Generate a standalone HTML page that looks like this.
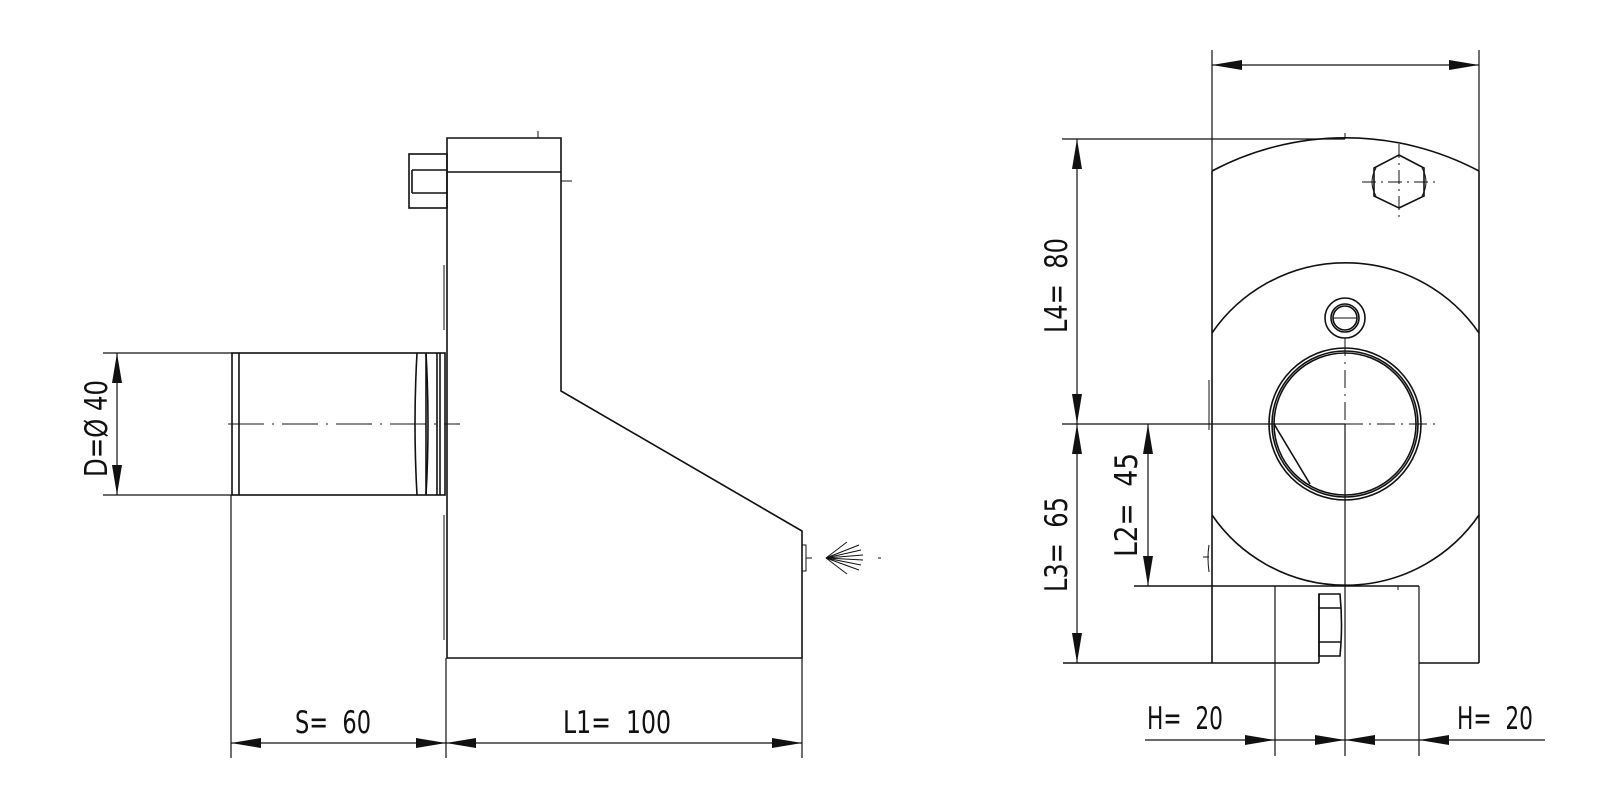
<!DOCTYPE html>
<html><head><meta charset="utf-8"><style>
html,body{margin:0;padding:0;background:#fff;}
svg{display:block;}
text{font-family:"DejaVu Sans Condensed","Liberation Sans",sans-serif;font-size:31px;fill:#111;white-space:pre;}
</style></head><body>
<svg width="1600" height="807" viewBox="0 0 1600 807" xmlns="http://www.w3.org/2000/svg" xml:space="preserve">
<defs>
<marker id="a" viewBox="0 0 30 10" refX="30" refY="5" markerWidth="30" markerHeight="10" markerUnits="userSpaceOnUse" orient="auto-start-reverse">
<path d="M0,0 L30,5 L0,10 Z" fill="#111"/></marker>
</defs>
<g fill="none" stroke="#111" stroke-width="1.6">
<rect x="409" y="154" width="38" height="54"/>
<line x1="412" y1="170" x2="447" y2="170"/><line x1="412" y1="193" x2="447" y2="193"/>
<line x1="412" y1="170" x2="412" y2="193"/>
<path d="M447,138 H561 V391 L802,531 V658 H447 Z"/>
<line x1="447" y1="172" x2="561" y2="172"/>
<line x1="538" y1="131" x2="538" y2="138" stroke-width="1"/>
<line x1="561" y1="181" x2="572" y2="181" stroke-width="1"/>
<line x1="444" y1="265" x2="444" y2="330" stroke-width="1"/>
<line x1="444" y1="515" x2="444" y2="640" stroke-width="1"/>
<rect x="232" y="353" width="213" height="142"/>
<line x1="239" y1="353" x2="239" y2="495"/>
<path d="M417,353 Q413,424 417,495 M426,353 Q430,424 426,495"/>
<line x1="426" y1="353" x2="426" y2="495"/>
<line x1="437" y1="353" x2="437" y2="495"/><line x1="440" y1="353" x2="440" y2="495"/>
<line x1="228" y1="424" x2="460" y2="424" stroke-width="1" stroke-dasharray="36,8,2,8"/>
<rect x="802" y="545" width="4" height="26" stroke-width="1"/>
<line x1="806" y1="558" x2="812" y2="558" stroke-width="1"/>
<g stroke-width="1">
<line x1="826" y1="558" x2="847" y2="542"/><line x1="826" y1="558" x2="859" y2="545"/>
<line x1="826" y1="558" x2="861" y2="550"/><line x1="826" y1="558" x2="863" y2="555"/>
<line x1="826" y1="558" x2="863" y2="560"/><line x1="826" y1="558" x2="861" y2="565"/>
<line x1="826" y1="558" x2="859" y2="570"/><line x1="826" y1="558" x2="847" y2="574"/>
</g>
<line x1="878" y1="558" x2="881" y2="558" stroke-width="1"/>
<g stroke-width="1.2">
<line x1="103" y1="353" x2="232" y2="353"/><line x1="103" y1="495" x2="232" y2="495"/>
<line x1="117" y1="353" x2="117" y2="495" marker-start="url(#a)" marker-end="url(#a)"/>
<line x1="231" y1="495" x2="231" y2="758"/><line x1="446" y1="658" x2="446" y2="758"/><line x1="802" y1="658" x2="802" y2="758"/>
<line x1="231" y1="743" x2="446" y2="743" marker-start="url(#a)" marker-end="url(#a)"/>
<line x1="446" y1="743" x2="802" y2="743" marker-start="url(#a)" marker-end="url(#a)"/>
</g>
<path d="M1212,171 A285,285 0 0 1 1479,171"/>
<line x1="1212" y1="171" x2="1212" y2="663"/><line x1="1479" y1="171" x2="1479" y2="663"/>
<path d="M1212,333 A162,162 0 0 1 1479,333"/>
<path d="M1212,515 A162,162 0 0 0 1479,515"/>
<circle cx="1345" cy="424" r="76"/><circle cx="1345" cy="424" r="73"/><circle cx="1345" cy="424" r="71"/>
<line x1="1274" y1="424" x2="1310" y2="484"/>
<circle cx="1345" cy="318" r="20"/><circle cx="1345" cy="318" r="14"/><circle cx="1345" cy="318" r="12"/>
<line x1="1333" y1="318" x2="1357" y2="318" stroke-width="1"/>
<polygon points="1399,155 1424,168 1424,196 1399,208 1374,196 1374,168"/>
<path d="M1376,168 Q1368,182 1376,196 M1422,168 Q1430,182 1422,196" stroke-width="1"/>
<line x1="1362" y1="182" x2="1436" y2="182" stroke-width="1" stroke-dasharray="14,5,2,5"/>
<line x1="1399" y1="144" x2="1399" y2="218" stroke-width="1" stroke-dasharray="14,5,2,5"/>
<line x1="1062" y1="139" x2="1345" y2="139" stroke-width="1.2"/>
<line x1="1345" y1="133" x2="1345" y2="139" stroke-width="1"/>
<line x1="1345" y1="338" x2="1345" y2="424" stroke-width="1" stroke-dasharray="18,6,2,6"/>
<line x1="1345" y1="424" x2="1345" y2="756" stroke-width="1.2"/>
<line x1="1062" y1="424" x2="1345" y2="424" stroke-width="1.2"/>
<line x1="1345" y1="424" x2="1436" y2="424" stroke-width="1" stroke-dasharray="18,6,2,6"/>
<path d="M1209,545 Q1207,557 1209,572" stroke-width="1"/><line x1="1203" y1="557" x2="1209" y2="557" stroke-width="1"/>
<path d="M1209,380 L1209,430" stroke-width="1"/>
<line x1="1134" y1="586" x2="1419" y2="586"/>
<line x1="1419" y1="586" x2="1419" y2="756" stroke-width="1.2"/>
<line x1="1275" y1="586" x2="1275" y2="756" stroke-width="1.2"/>
<line x1="1063" y1="663" x2="1319" y2="663"/>
<line x1="1419" y1="663" x2="1479" y2="663"/>
<line x1="1398" y1="586" x2="1398" y2="590" stroke-width="1"/>
<path d="M1319,594 H1340 Q1343,625 1340,656 H1319 Z"/>
<line x1="1319" y1="608" x2="1341" y2="608"/><line x1="1319" y1="642" x2="1341" y2="642"/>
<line x1="1319" y1="594" x2="1319" y2="663"/>
<g stroke-width="1.2">
<line x1="1212" y1="50" x2="1212" y2="171"/><line x1="1479" y1="50" x2="1479" y2="171"/>
<line x1="1212" y1="65" x2="1479" y2="65" marker-start="url(#a)" marker-end="url(#a)"/>
<line x1="1077" y1="139" x2="1077" y2="424" marker-start="url(#a)" marker-end="url(#a)"/>
<line x1="1077" y1="424" x2="1077" y2="663" marker-start="url(#a)" marker-end="url(#a)"/>
<line x1="1148" y1="424" x2="1148" y2="586" marker-start="url(#a)" marker-end="url(#a)"/>
<line x1="1145" y1="740" x2="1275" y2="740" marker-end="url(#a)"/>
<line x1="1275" y1="740" x2="1345" y2="740" marker-end="url(#a)"/>
<line x1="1419" y1="740" x2="1345" y2="740" marker-end="url(#a)"/>
<line x1="1545" y1="740" x2="1419" y2="740" marker-end="url(#a)"/>
</g>
</g>
<text x="295" y="733" textLength="76" lengthAdjust="spacingAndGlyphs">S=  60</text>
<text x="563" y="733" textLength="108" lengthAdjust="spacingAndGlyphs">L1=  100</text>
<text x="1147" y="729" textLength="76" lengthAdjust="spacingAndGlyphs">H=  20</text>
<text x="1457" y="729" textLength="76" lengthAdjust="spacingAndGlyphs">H=  20</text>
<text transform="translate(107,477) rotate(-90)" textLength="97" lengthAdjust="spacingAndGlyphs">D=Ø 40</text>
<text transform="translate(1067,333) rotate(-90)" textLength="95" lengthAdjust="spacingAndGlyphs">L4=  80</text>
<text transform="translate(1067,592) rotate(-90)" textLength="95" lengthAdjust="spacingAndGlyphs">L3=  65</text>
<text transform="translate(1137,557) rotate(-90)" textLength="104" lengthAdjust="spacingAndGlyphs">L2=  45</text>
</svg>
</body></html>
